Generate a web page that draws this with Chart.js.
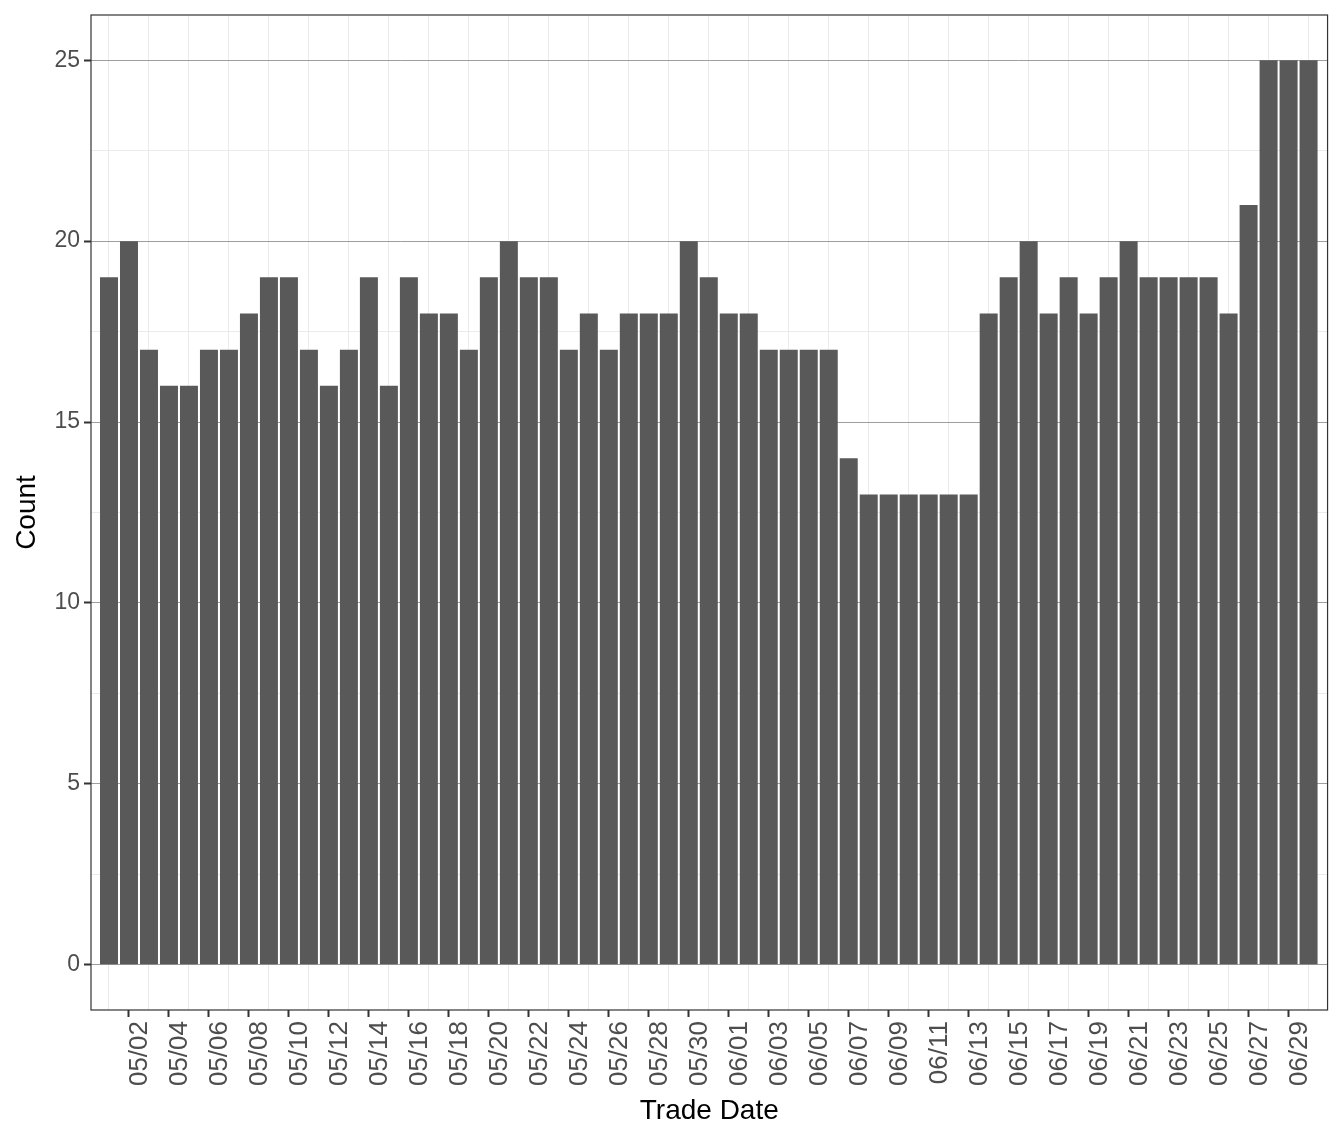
<!DOCTYPE html>
<html>
<head>
<meta charset="utf-8">
<script src="https://cdn.jsdelivr.net/npm/chart.js@4/dist/chart.umd.min.js"></script>
<style>
  html, body { margin: 0; padding: 0; background: #fff; }
  #wrap { width: 1344px; height: 1142px; }
</style>
</head>
<body>
<div id="wrap"><canvas id="chart" width="1344" height="1142"></canvas></div>
<script>
const dates = [
  '05/01', '05/02', '05/03', '05/04', '05/05', '05/06', '05/07', '05/08', '05/09', '05/10',
  '05/11', '05/12', '05/13', '05/14', '05/15', '05/16', '05/17', '05/18', '05/19', '05/20',
  '05/21', '05/22', '05/23', '05/24', '05/25', '05/26', '05/27', '05/28', '05/29', '05/30',
  '05/31', '06/01', '06/02', '06/03', '06/04', '06/05', '06/06', '06/07', '06/08', '06/09',
  '06/10', '06/11', '06/12', '06/13', '06/14', '06/15', '06/16', '06/17', '06/18', '06/19',
  '06/20', '06/21', '06/22', '06/23', '06/24', '06/25', '06/26', '06/27', '06/28', '06/29',
  '06/30'
];
const counts = [
  19, 20, 17, 16, 16, 17, 17, 18, 19, 19,
  17, 16, 17, 19, 16, 19, 18, 18, 17, 19,
  20, 19, 19, 17, 18, 17, 18, 18, 18, 20,
  19, 18, 18, 17, 17, 17, 17, 14, 13, 13,
  13, 13, 13, 13, 18, 19, 20, 18, 19, 18,
  19, 20, 19, 19, 19, 19, 18, 21, 25, 25,
  25
];
const yTicks = [0, 5, 10, 15, 20, 25];

const font = "'Liberation Sans', Arial, Helvetica, sans-serif";
const isMajorY = v => yTicks.includes(v);

// panel frame like theme_bw
const frame = {
  id: 'frame',
  afterDatasetsDraw(chart) {
    const a = chart.chartArea;
    const ctx = chart.ctx;
    ctx.save();
    ctx.strokeStyle = '#333333';
    ctx.lineWidth = 1.2;
    ctx.strokeRect(a.left, a.top, a.right - a.left, a.bottom - a.top);
    ctx.restore();
  }
};

new Chart(document.getElementById('chart'), {
  type: 'bar',
  data: {
    datasets: [{
      data: counts.map((c, i) => ({ x: i, y: c })),
      backgroundColor: '#595959',
      borderWidth: 0,
      barPercentage: 0.9,
      categoryPercentage: 1.0
    }]
  },
  options: {
    responsive: false,
    animation: false,
    layout: { padding: { left: 0, right: 15, top: 15, bottom: 0 } },
    plugins: { legend: { display: false }, tooltip: { enabled: false } },
    scales: {
      x: {
        type: 'linear',
        offset: false,
        min: -0.9,
        max: 60.95,
        afterBuildTicks: s => { s.ticks = dates.map((d, i) => ({ value: i })); },
        afterFit: s => { s.height = 132; },
        border: { display: false },
        grid: {
          offset: false,
          color: c => (c.index % 2 === 0 ? '#ebebeb' : 'rgba(0,0,0,0)'),
          lineWidth: 1,
          tickColor: c => (c.index % 2 === 1 ? '#333333' : 'rgba(0,0,0,0)'),
          tickLength: 7,
          tickWidth: 2
        },
        ticks: {
          autoSkip: false,
          minRotation: 90,
          maxRotation: 90,
          labelOffset: 11,
          padding: 4,
          color: '#4d4d4d',
          font: { family: font, size: 26 },
          callback: (v, i) => (i % 2 === 1 ? dates[i] : '')
        },
        title: {
          display: true,
          text: 'Trade Date',
          color: '#000000',
          font: { family: font, size: 28 },
          padding: { top: 0, bottom: 14 }
        }
      },
      y: {
        min: -1.25,
        max: 26.25,
        afterBuildTicks: s => {
          const t = [];
          for (let v = 0; v <= 25; v += 2.5) t.push({ value: v });
          s.ticks = t;
        },
        afterFit: s => {
          s.width = 91;
          s.paddingTop = 0;
          s.paddingBottom = 0;
        },
        border: { display: false },
        grid: {
          color: c => (isMajorY(c.tick.value) ? '#9e9e9e' : '#ebebeb'),
          lineWidth: 1,
          tickColor: c => (isMajorY(c.tick.value) ? '#333333' : 'rgba(0,0,0,0)'),
          tickLength: 7,
          tickWidth: 2
        },
        ticks: {
          autoSkip: false,
          padding: 4,
          color: '#4d4d4d',
          font: { family: font, size: 23 },
          callback: v => (isMajorY(v) ? String(v) : '')
        },
        title: {
          display: true,
          text: 'Count',
          color: '#000000',
          font: { family: font, size: 28 },
          padding: { top: 10, bottom: 0 }
        }
      }
    }
  },
  plugins: [frame]
});
</script>
</body>
</html>
